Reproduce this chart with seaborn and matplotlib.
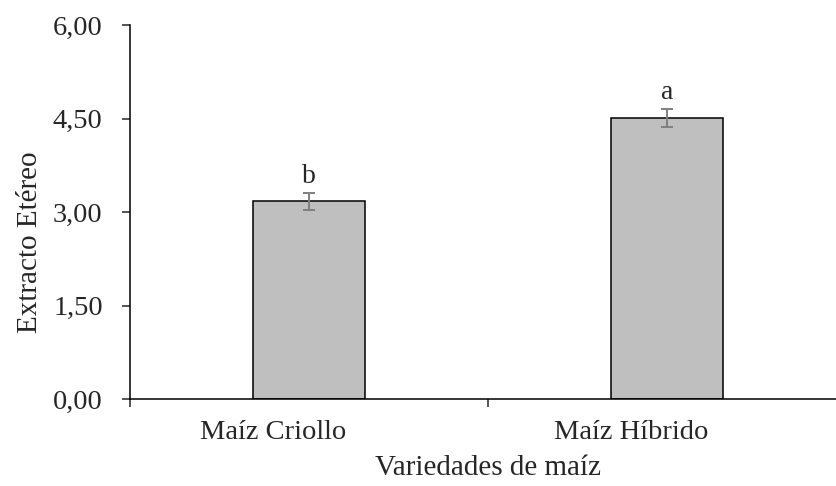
import matplotlib as mpl
mpl.use("Agg")
import matplotlib.pyplot as plt
import matplotlib.ticker as ticker
import matplotlib.transforms as mtransforms
import seaborn as sns

categories = ["Maíz Criollo", "Maíz Híbrido"]
means = [3.17, 4.51]
errors = [0.14, 0.14]
letters = ["b", "a"]
yticks = [0.0, 1.5, 3.0, 4.5, 6.0]

sns.set_style("white")
plt.rcParams["font.family"] = ["Liberation Serif", "DejaVu Serif"]
fontSize = 21
tickSize = 20.5
lineWidth = 1.1

fig = plt.figure(figsize=(8.37, 4.86), dpi=100)
ax = fig.add_axes([0.1559, 0.179, 0.8542, 0.7695])

sns.barplot(x=categories, y=means, color="#bfbfbf", edgecolor="black",
            linewidth=lineWidth, width=0.313, errorbar=None, saturation=1, ax=ax)
ax.errorbar(range(len(categories)), means, yerr=errors, fmt="none",
            ecolor="#7f7f7f", elinewidth=1.4, capsize=4.3, capthick=1.4)

for i, (m, e, lab) in enumerate(zip(means, errors, letters)):
    ax.annotate(lab, xy=(i, m + e), xytext=(0, 7), textcoords="offset points",
                ha="center", va="baseline", fontsize=20)

ax.set_xlim(-0.5, 1.5)
ax.set_ylim(0, 6)
ax.set_yticks(yticks)
ax.yaxis.set_major_formatter(ticker.FuncFormatter(lambda v, p: f"{v:.2f}".replace(".", ",")))
ax.set_xticks(range(len(categories)))
ax.set_xticklabels(categories)
ax.xaxis.set_minor_locator(ticker.FixedLocator([-0.5, 0.5, 1.5]))
ax.tick_params(axis="x", which="major", length=0, pad=15, labelsize=tickSize)
ax.tick_params(axis="x", which="minor", length=6, width=lineWidth, direction="out", bottom=True)
ax.tick_params(axis="y", length=6, width=lineWidth, direction="out", left=True,
               pad=14, labelsize=tickSize)

# category labels sit a bit left of the bar centres in the original
shift = mtransforms.ScaledTranslation(-36 / 100, 0, fig.dpi_scale_trans)
for lab in ax.get_xticklabels():
    lab.set_transform(lab.get_transform() + shift)

for s in ["top", "right"]:
    ax.spines[s].set_visible(False)
for s in ["left", "bottom"]:
    ax.spines[s].set_color("black")
    ax.spines[s].set_linewidth(lineWidth)

ax.set_xlabel("Variedades de maíz", fontsize=fontSize, va="baseline")
ax.xaxis.set_label_coords(0.5, -0.203)
ax.set_ylabel("Extracto Etéreo", fontsize=fontSize, va="baseline")
ax.yaxis.set_label_coords(-0.131, 0.418)
ax.grid(False)

plt.savefig("out.png", dpi=100)
